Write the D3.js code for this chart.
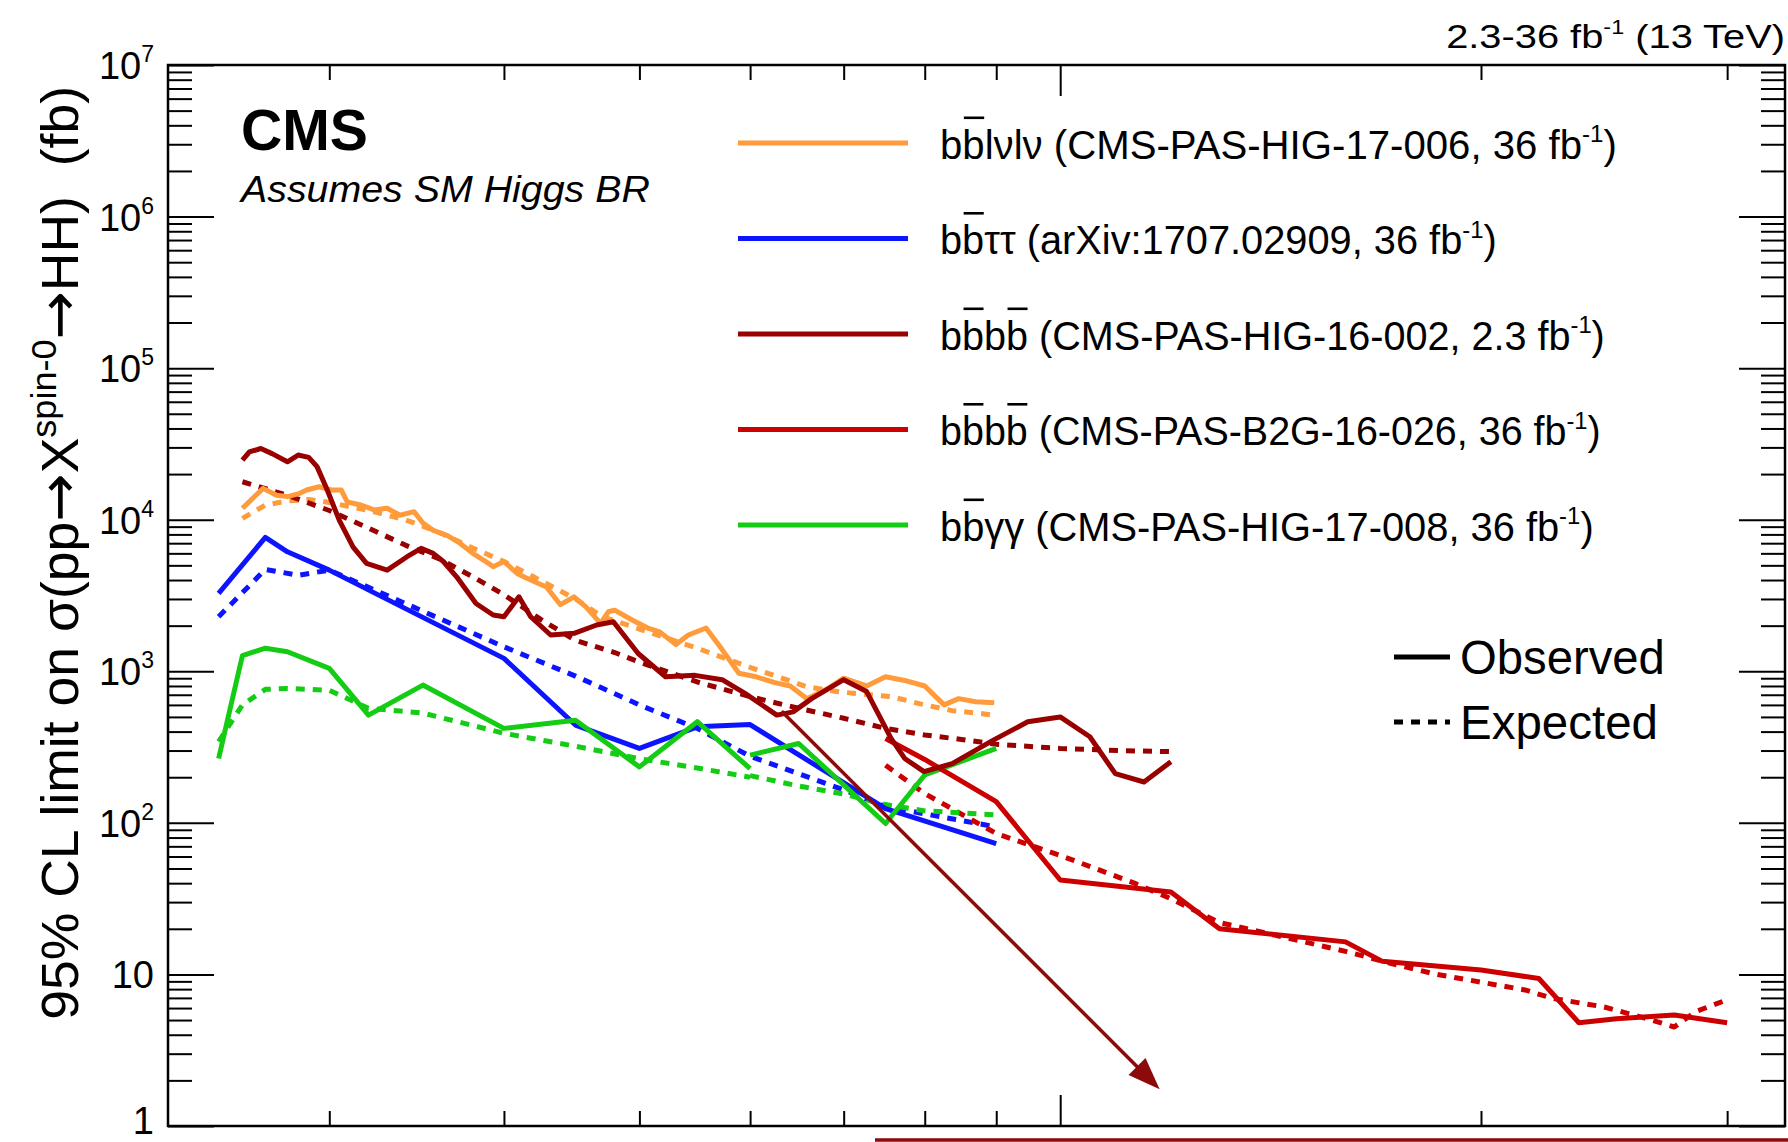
<!DOCTYPE html>
<html>
<head>
<meta charset="utf-8">
<script src="https://cdn.jsdelivr.net/npm/d3@7"></script>
<style>
  html, body { margin: 0; padding: 0; background: #fff; }
  svg { display: block; }
  text { font-family: "Liberation Sans", Arial, Helvetica, sans-serif; fill: #000; }
  .arw { font-family: "DejaVu Sans", sans-serif; }
</style>
</head>
<body>
<svg id="chart" width="1788" height="1142"></svg>
<script>
// ---------------- data: resonance mass (GeV) and 95% CL limits (fb) ----------------
// bb lvlv  (CMS-PAS-HIG-17-006)
const bblvlvObsMass = [260,269,275,280,285,289,295,301,306,309,316,323,330,337,345,350,356,364,372,380,387,393,400,409,418,429,439,449,458,469,475,480,494,507,517,531,542,558,573,589,606,624,641,659,682,700,727,750,774,800,826,846,870,897];
const bblvlvObs     = [11900,16100,14500,14200,14800,15700,16500,15700,15700,13100,12500,11600,11900,10700,11300,9500,8500,7900,7000,6000,5400,4900,5300,4400,4000,3600,2750,3100,2650,2070,2470,2530,2180,1930,1820,1500,1735,1930,1390,970,920,845,800,660,770,900,800,920,870,800,600,660,630,620];
const bblvlvExpMass = [260,270,280,290,300,320,340,360,380,400,420,450,470,500,550,600,624,659,696,757,794,837,880,900];
const bblvlvExp     = [10200,12500,13300,13600,13000,11500,10000,8200,6500,5300,4200,3000,2300,1900,1420,1060,940,790,730,680,610,550,525,510];

// bb tautau (arXiv:1707.02909)
const bbttMass   = [250,270,280,300,400,450,500,550,600,750,900];
const bbttObs    = [3270,7640,6140,4650,1217,442,310,430,445,124,73];
const bbttExpMass = [250,270,285,300,400,450,500,550,600,700,750,900];
const bbttExp    = [2290,4700,4300,4650,1450,930,600,420,275,165,128,94];

// bbbb 2.3 fb-1 (CMS-PAS-HIG-16-002)
const bbbbLowObsMass = [260,263,268,273,280,285,290,294,299,305,312,319,330,341,349,356,362,370,382,393,400,410,418,432,449,466,479,499,522,548,573,595,627,644,664,700,727,757,774,799,837,895,948,1000,1050,1095,1148,1200];
const bbbbLowObs     = [24700,28000,29500,27300,24100,26700,25800,22400,15700,9900,6600,5150,4650,5700,6470,6000,5300,4200,2800,2350,2290,3100,2290,1735,1780,2020,2120,1310,920,940,880,715,514,540,660,880,735,360,266,218,246,350,464,500,370,211,186,253];
const bbbbLowExpMass = [260,280,300,320,340,360,380,400,425,450,480,500,550,600,650,700,750,800,850,900,1000,1100,1200];
const bbbbLowExp     = [17800,14500,11500,8800,6800,5500,4200,3200,2200,1600,1330,1150,850,680,570,490,420,380,355,330,310,300,295];

// bbbb 36 fb-1 (CMS-PAS-B2G-16-026)
const bbbbHighObsMass = [750,800,900,1000,1200,1300,1600,1700,2000,2200,2350,2500,2750,3000];
const bbbbHighObs     = [360,262,138,42,35,20,16.4,12.2,10.7,9.4,4.8,5.1,5.4,4.8];
const bbbbHighExpMass = [750,800,900,1000,1130,1200,1300,1600,1720,1850,2150,2250,2450,2650,2750,2850,3000];
const bbbbHighExp     = [240,156,85,61,40,31.6,22,14.2,11.9,10.1,7.9,6.95,6.1,5.0,4.5,5.7,6.8];

// bb gammagamma (CMS-PAS-HIG-17-008), low- and high-mass parts
const bbggLowMass   = [250,260,270,280,300,320,350,400,450,500,550,600];
const bbggLowObs    = [266,1270,1420,1345,1045,514,811,420,476,234,465,228];
const bbggLowExp    = [343,600,760,770,750,570,530,390,320,265,230,200];
const bbggHighMass  = [600,650,750,800,900];
const bbggHighObs   = [280,334,99,207,310];
const bbggHighExpMass = [600,650,700,750,800,900];
const bbggHighExp   = [205,175,155,132,120,113];

// axis ticks
const yDecades = [1,10,1e2,1e3,1e4,1e5,1e6,1e7];
const yDecadeExp = [0,1,2,3,4,5,6,7];
const xMajorTicks = [1000];
const xMinorTicks = [300,400,500,600,700,800,900,2000,3000];

// legend texts: [string, kind]  kind: "over" = overlined, "sup" = superscript
const legendEntries = [
  [["b"],["b","over"],["lνlν (CMS-PAS-HIG-17-006, 36 fb"],["-1","sup"],[")"]],
  [["b"],["b","over"],["ττ (arXiv:1707.02909, 36 fb"],["-1","sup"],[")"]],
  [["b"],["b","over"],["b"],["b","over"],[" (CMS-PAS-HIG-16-002, 2.3 fb"],["-1","sup"],[")"]],
  [["b"],["b","over"],["b"],["b","over"],[" (CMS-PAS-B2G-16-026, 36 fb"],["-1","sup"],[")"]],
  [["b"],["b","over"],["γγ (CMS-PAS-HIG-17-008, 36 fb"],["-1","sup"],[")"]]
];

// ---------------- drawing ----------------
const C = {
  orange: "#ff9b3a",
  blue: "#0d14ff",
  darkred: "#990000",
  red: "#cc0000",
  green: "#14cc14",
  arrow: "#8c0a0a"
};
const P = { left: 168, right: 1785, top: 65, bottom: 1126 };

const svg = d3.select("#chart");
const x = d3.scaleLog().domain([230, 3300]).range([P.left, P.right]);
const y = d3.scaleLog().domain([1, 1e7]).range([P.bottom, P.top]);

svg.append("rect").attr("width", 1788).attr("height", 1142).attr("fill", "#fff");

svg.append("defs").append("clipPath").attr("id", "plotClip")
  .append("rect").attr("x", P.left).attr("y", P.top)
  .attr("width", P.right - P.left).attr("height", P.bottom - P.top);

const zip = (m, v) => m.map((mm, i) => [mm, v[i]]);
const line = d3.line().x(d => x(d[0])).y(d => y(d[1]));

const curves = [
  { d: zip(bblvlvExpMass, bblvlvExp), c: C.orange, dash: true },
  { d: zip(bbttExpMass, bbttExp), c: C.blue, dash: true },
  { d: zip(bbbbLowExpMass, bbbbLowExp), c: C.darkred, dash: true },
  { d: zip(bbbbHighExpMass, bbbbHighExp), c: C.red, dash: true },
  { d: zip(bbggLowMass, bbggLowExp), c: C.green, dash: true },
  { d: zip(bbggHighExpMass, bbggHighExp), c: C.green, dash: true },
  { d: zip(bblvlvObsMass, bblvlvObs), c: C.orange, dash: false },
  { d: zip(bbttMass, bbttObs), c: C.blue, dash: false },
  { d: zip(bbggLowMass, bbggLowObs), c: C.green, dash: false },
  { d: zip(bbggHighMass, bbggHighObs), c: C.green, dash: false },
  { d: zip(bbbbHighObsMass, bbbbHighObs), c: C.red, dash: false },
  { d: zip(bbbbLowObsMass, bbbbLowObs), c: C.darkred, dash: false }
];

const gCurves = svg.append("g").attr("clip-path", "url(#plotClip)");
gCurves.selectAll("path").data(curves).join("path")
  .attr("d", d => line(d.d))
  .attr("fill", "none")
  .attr("stroke", d => d.c)
  .attr("stroke-width", 5)
  .attr("stroke-linejoin", "round")
  .attr("stroke-dasharray", d => d.dash ? "9,8" : null);

// ---------- frame and ticks ----------
svg.append("rect")
  .attr("x", P.left).attr("y", P.top)
  .attr("width", P.right - P.left).attr("height", P.bottom - P.top)
  .attr("fill", "none").attr("stroke", "#000").attr("stroke-width", 2.5);

const yMinor = [];
yDecades.slice(0, -1).forEach(d => { for (let k = 2; k <= 9; k++) yMinor.push(k * d); });

function ticks(axisFn, scale, values, len, tr) {
  svg.append("g").attr("transform", tr)
    .call(axisFn(scale).tickValues(values).tickSizeInner(-len).tickSizeOuter(0).tickFormat(() => ""))
    .call(g => g.select(".domain").remove())
    .call(g => g.selectAll(".tick line").attr("stroke", "#000").attr("stroke-width", 2));
}
ticks(d3.axisLeft, y, yDecades, 46, `translate(${P.left},0)`);
ticks(d3.axisLeft, y, yMinor, 24, `translate(${P.left},0)`);
ticks(d3.axisRight, y, yDecades, 46, `translate(${P.right},0)`);
ticks(d3.axisRight, y, yMinor, 24, `translate(${P.right},0)`);
ticks(d3.axisBottom, x, xMajorTicks, 31, `translate(0,${P.bottom})`);
ticks(d3.axisBottom, x, xMinorTicks, 15, `translate(0,${P.bottom})`);
ticks(d3.axisTop, x, xMajorTicks, 31, `translate(0,${P.top})`);
ticks(d3.axisTop, x, xMinorTicks, 15, `translate(0,${P.top})`);

// y tick labels: 1, 10, 10^2 ... 10^7
const gYL = svg.append("g");
yDecades.forEach((d, i) => {
  const e = yDecadeExp[i];
  // the lowest label sits at the bottom edge of the canvas; keep it inside
  const by = e === 0 ? Math.min(y(d) + 14, 1134) : y(d) + 14;
  const t = gYL.append("text")
    .attr("x", 154).attr("y", by)
    .attr("text-anchor", "end").attr("font-size", 38);
  if (e === 0) t.text("1");
  else if (e === 1) t.text("10");
  else {
    t.append("tspan").text("10");
    t.append("tspan").attr("font-size", 23).attr("dy", -17).text(String(e));
  }
});

// ---------- helpers ----------
function fitX(sel, target, ax, ay) {
  const w = sel.node().getBBox().width;
  const s = target / w;
  sel.attr("transform", `translate(${ax},${ay}) scale(${s},1) translate(${-ax},${-ay})`);
}

function richText(parent, px, py, parts, size) {
  const t = parent.append("text").attr("x", px).attr("y", py).attr("font-size", size)
    .style("white-space", "pre");
  let idx = 0, prevSup = false;
  const over = [];
  parts.forEach(([str, kind]) => {
    const ts = t.append("tspan").text(str);
    if (kind === "sup") ts.attr("font-size", size * 0.6).attr("dy", -size * 0.42);
    else if (prevSup) ts.attr("dy", size * 0.42);
    if (kind === "over") over.push(idx);
    prevSup = kind === "sup";
    idx += str.length;
  });
  over.forEach(i => {
    const e = t.node().getExtentOfChar(i);
    parent.append("line")
      .attr("x1", e.x + 1.5).attr("x2", e.x + e.width - 0.5)
      .attr("y1", py - size * 1.03).attr("y2", py - size * 1.03)
      .attr("stroke", "#000").attr("stroke-width", 2.6);
  });
  return t;
}

// ---------- y axis title ----------
const gTitle = svg.append("g").attr("transform", "translate(78,86) rotate(-90)");
const title = gTitle.append("text").attr("x", 0).attr("y", 0)
  .attr("text-anchor", "end").attr("font-size", 52).style("white-space", "pre");
title.append("tspan").text("95% CL limit on σ(pp");
title.append("tspan").attr("class", "arw").attr("font-size", 56).text("→");
title.append("tspan").text("X");
title.append("tspan").attr("font-size", 35).attr("dy", -22).text("spin-0");
title.append("tspan").attr("class", "arw").attr("font-size", 56).attr("dy", 22).text("→");
title.append("tspan").text("HH)  (fb)");
{
  const w = title.node().getBBox().width;
  title.attr("transform", `scale(${934 / w},1)`);
}

// ---------- header texts ----------
const lumi = svg.append("g");
const lumiT = lumi.append("text").attr("x", 1785).attr("y", 48)
  .attr("text-anchor", "end").attr("font-size", 34);
lumiT.append("tspan").text("2.3-36 fb");
lumiT.append("tspan").attr("font-size", 20).attr("dy", -14).text("-1");
lumiT.append("tspan").attr("dy", 14).text(" (13 TeV)");
fitX(lumi, 339, 1785, 48);

const cms = svg.append("g");
cms.append("text").attr("x", 241).attr("y", 150)
  .attr("font-size", 58).attr("font-weight", "bold").text("CMS");
fitX(cms, 127, 241, 150);

const sub = svg.append("g");
sub.append("text").attr("x", 241).attr("y", 202)
  .attr("font-size", 37).attr("font-style", "italic").text("Assumes SM Higgs BR");
fitX(sub, 411, 241, 202);

// ---------- channel legend ----------
const legendColors = [C.orange, C.blue, C.darkred, C.red, C.green];
const legendWidths = [677, 557, 665, 661, 654];
legendEntries.forEach((parts, i) => {
  const ly = 143 + i * 95.5;
  svg.append("line").attr("x1", 738).attr("x2", 908).attr("y1", ly).attr("y2", ly)
    .attr("stroke", legendColors[i]).attr("stroke-width", 5);
  const g = svg.append("g");
  richText(g, 940, ly + 16, parts, 40);
  fitX(g, legendWidths[i], 940, ly + 16);
});

// ---------- observed / expected legend ----------
const styleLegend = [["Observed", null, 657], ["Expected", "9,8", 722]];
styleLegend.forEach(([label, dash, ly]) => {
  svg.append("line").attr("x1", 1394).attr("x2", 1450).attr("y1", ly).attr("y2", ly)
    .attr("stroke", "#000").attr("stroke-width", 5).attr("stroke-dasharray", dash);
  const g = svg.append("g");
  g.append("text").attr("x", 1460).attr("y", ly + 17).attr("font-size", 48).text(label);
  fitX(g, label === "Observed" ? 205 : 198, 1460, ly + 17);
});

// ---------- annotation arrow from the bbbb dip ----------
{
  const x0 = x(632), y0 = y(545), x1 = x(1178), y1 = y(1.75);
  const dx = x1 - x0, dy = y1 - y0, L = Math.hypot(dx, dy);
  const ux = dx / L, uy = dy / L, head = 32, half = 12;
  const bx = x1 - ux * head, by = y1 - uy * head;
  svg.append("line").attr("x1", x0).attr("y1", y0).attr("x2", bx + ux * 2).attr("y2", by + uy * 2)
    .attr("stroke", C.arrow).attr("stroke-width", 3.5);
  svg.append("path")
    .attr("d", `M${x1},${y1} L${bx - uy * half},${by + ux * half} L${bx + uy * half},${by - ux * half} Z`)
    .attr("fill", C.arrow);
}

// edge of the highlight box below the plot
svg.append("line").attr("x1", 875).attr("x2", 1788).attr("y1", 1140).attr("y2", 1140)
  .attr("stroke", C.arrow).attr("stroke-width", 3.5);
</script>
</body>
</html>
